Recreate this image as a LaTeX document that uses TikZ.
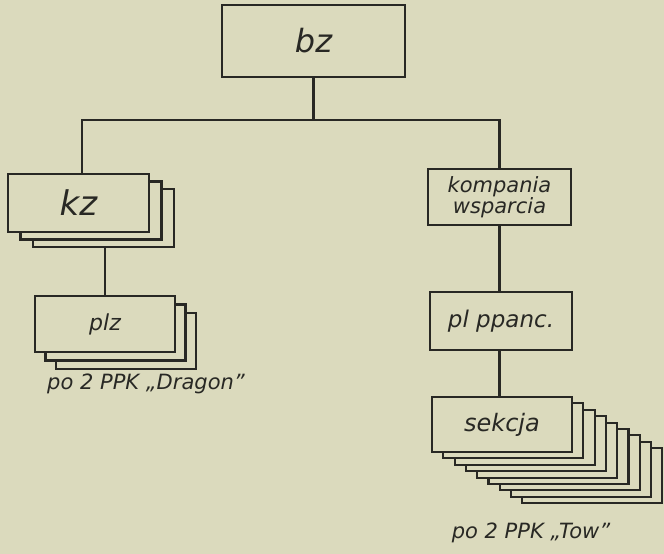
\documentclass[tikz,border=0pt]{standalone}
\usepackage{fontspec}
\setmainfont{DejaVu Sans}
\usetikzlibrary{calc}
\definecolor{paper}{RGB}{219,218,189}
\definecolor{ink}{RGB}{40,40,36}
\pgfdeclarelayer{back}
\pgfsetlayers{back,main}
\begin{document}
\begin{tikzpicture}[x=1pt,y=-1pt,
  box/.style={draw=ink, fill=paper, line width=2.1pt, inner sep=0pt, text=ink, font=\itshape},
  wire/.style={draw=ink, line width=2.1pt},
  note/.style={text=ink, font=\itshape\fontsize{21}{23}\selectfont, inner sep=0pt}]
\begin{pgfonlayer}{back}
\fill[paper] (0,0) rectangle (664,554);
\end{pgfonlayer}
\useasboundingbox (0,0) rectangle (664,554);

% main boxes
\node[box, minimum width=183pt, minimum height=72pt, font=\itshape\fontsize{32}{36}\selectfont] (bz) at (313.5,41) {bz};
\node[box, minimum width=141pt, minimum height=58pt, font=\itshape\fontsize{34}{38}\selectfont] (kz) at (78.5,203) {kz};
\node[box, minimum width=140pt, minimum height=56pt, font=\itshape\fontsize{22}{26}\selectfont] (plz) at (105,324) {plz};
\node[box, minimum width=143pt, minimum height=56pt, align=center, font=\itshape\fontsize{21}{19}\selectfont] (kw) at (499.5,197) {kompania\\wsparcia};
\node[box, minimum width=142pt, minimum height=58pt, font=\itshape\fontsize{23}{26}\selectfont] (pp) at (501,321) {pl ppanc.};
\node[box, minimum width=140pt, minimum height=55pt, font=\itshape\fontsize{24}{27}\selectfont] (sek) at (502,424.5) {sekcja};

% stacked copies
\begin{pgfonlayer}{back}
\foreach \k in {2,1}
  \node[box, minimum width=141pt, minimum height=58pt, xshift=\k*12.5pt, yshift=-\k*7.5pt] (kz\k) at (kz) {};
\foreach \k in {2,1}
  \node[box, minimum width=140pt, minimum height=56pt, xshift=\k*10.5pt, yshift=-\k*8.5pt] (plz\k) at (plz) {};
\foreach \k in {8,7,...,1}
  \node[box, minimum width=140pt, minimum height=55pt, xshift=\k*11.3pt, yshift=-\k*6.4pt] (sek\k) at (sek) {};
\end{pgfonlayer}

% labels
\node[note] (dragon) at (146,384) {po 2 PPK „Dragon”};
\node[note] (tow) at (531,533) {po 2 PPK „Tow”};

% connectors
\coordinate (jl) at (82,120);
\coordinate (jr) at (kw.north |- jl);
\draw[wire] (bz.south) -- (bz.south |- jl);
\draw[wire] (jl |- kz.north) -- (jl) -- (jr) -- (kw.north);
\draw[wire] (plz.north |- kz2.south) -- (plz.north);
\draw[wire] (kw.south) -- (kw.south |- pp.north);
\draw[wire] (kw.south |- pp.south) -- (kw.south |- sek.north);
\end{tikzpicture}
\end{document}
